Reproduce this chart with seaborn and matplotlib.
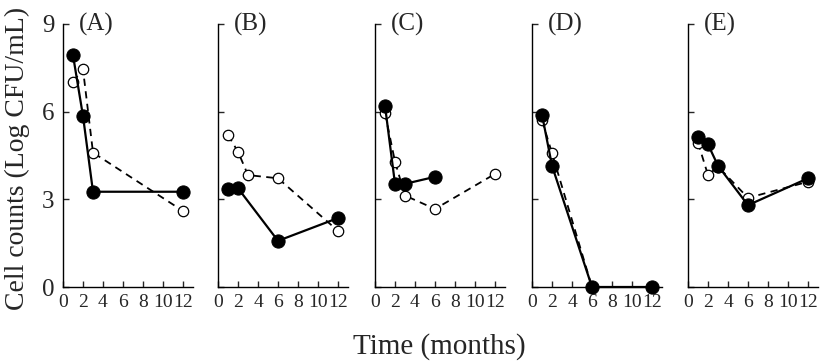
import numpy as np
import pandas as pd
import seaborn as sns
import matplotlib.pyplot as plt

panels = ["(A)", "(B)", "(C)", "(D)", "(E)"]

# filled circles, solid line
filled_x = [[1, 2, 3, 12], [1, 2, 6, 12], [1, 2, 3, 6], [1, 2, 6, 12], [1, 2, 3, 6, 12]]
filled_y = [[7.93, 5.85, 3.26, 3.26], [3.36, 3.38, 1.58, 2.36], [6.2, 3.53, 3.53, 3.77],
            [5.9, 4.15, 0.0, 0.0], [5.15, 4.88, 4.15, 2.8, 3.72]]
# open circles, dashed line
open_x = [[1, 2, 3, 12], [1, 2, 3, 6, 12], [1, 2, 3, 6, 12], [1, 2, 6], [1, 2, 3, 6, 12]]
open_y = [[7.03, 7.45, 4.6, 2.6], [5.2, 4.63, 3.83, 3.72, 1.92], [5.95, 4.29, 3.13, 2.67, 3.87],
          [5.7, 4.58, 0.0], [4.94, 3.83, 4.12, 3.05, 3.6]]

yticks = [0, 3, 6, 9]
xticks = [0, 2, 4, 6, 8, 10, 12]

sns.set_theme(style="ticks")
plt.rcParams['font.family'] = ['Liberation Serif', 'DejaVu Serif']
plt.rcParams['xtick.direction'] = 'in'
plt.rcParams['ytick.direction'] = 'in'

fig = plt.figure(figsize=(8.27, 3.62), dpi=100)
lefts = [63, 218, 375, 532, 688]  # pixel positions of each panel's left spine

for i, name in enumerate(panels):
    ax = fig.add_axes([lefts[i] / 827, 1 - 287 / 362, 130 / 827, (287 - 24) / 362])
    df_f = pd.DataFrame({"month": filled_x[i], "count": filled_y[i]})
    df_o = pd.DataFrame({"month": open_x[i], "count": open_y[i]})
    sns.lineplot(data=df_o, x="month", y="count", ax=ax, color="black", lw=1.3,
                 linestyle=(0, (4, 3)), marker="o", markersize=7.5, markerfacecolor="white",
                 markeredgecolor="black", markeredgewidth=0.9, clip_on=False, zorder=3)
    sns.lineplot(data=df_f, x="month", y="count", ax=ax, color="black", lw=1.6,
                 marker="o", markersize=9.5, markerfacecolor="black",
                 markeredgecolor="black", clip_on=False, zorder=4)
    ax.set_xlim(0, 13)
    ax.set_ylim(0, 9)
    ax.set_xticks(xticks)
    ax.set_yticks(yticks)
    ax.tick_params(axis="x", labelsize=14, length=4, width=1, pad=5)
    ax.tick_params(axis="y", labelsize=18, length=4, width=1, pad=6)
    if i > 0:
        ax.set_yticklabels([])
    ax.set_xlabel("")
    ax.set_ylabel("")
    ax.text(1.6, 9.0, name, fontsize=18, ha="left", va="center")
    sns.despine(ax=ax)
    for s in ["left", "bottom"]:
        ax.spines[s].set_linewidth(1.0)
        ax.spines[s].set_color("black")

fig.text(439 / 827, 1 - 347 / 362, "Time (months)", fontsize=21, ha="center", va="center")
fig.text(17 / 827, 1 - 158 / 362, "Cell counts (Log CFU/mL)", fontsize=20,
         ha="center", va="center", rotation=90)

fig.savefig("out.png", dpi=100)
